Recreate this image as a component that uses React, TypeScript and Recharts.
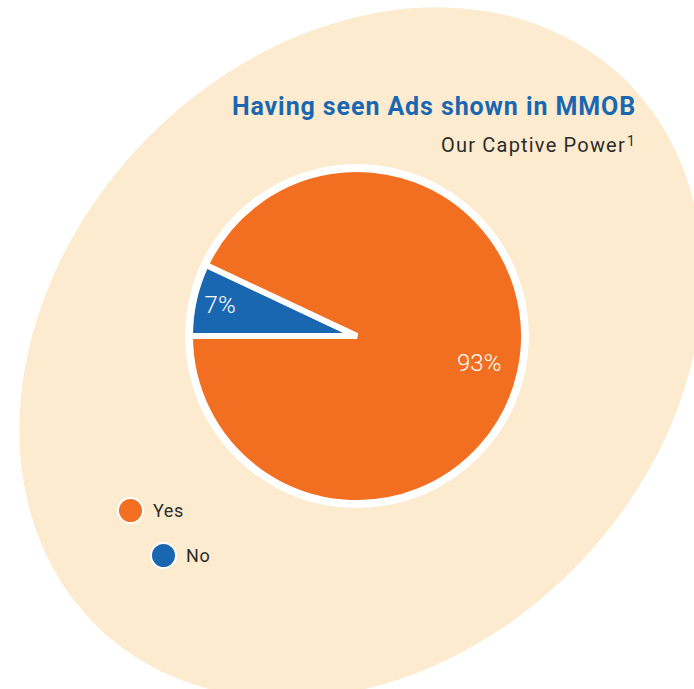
import { PieChart, Pie, Cell, Legend } from "recharts";

const answers = ["No", "Yes"];
const shares = [7, 93];
const colors = ["#1A67B1", "#F26F22"];
const legendOrder = ["Yes", "No"];

const title = "Having seen Ads shown in MMOB";
const subtitle = "Our Captive Power";

const data = answers.map((name, i) => ({ name, value: shares[i] }));

const RADIAN = Math.PI / 180;

function renderLabel(props: any) {
  const { cx, cy, midAngle, outerRadius, value, percent } = props;
  // thin slices get their label pushed nearer the rim
  const r = outerRadius * (percent < 0.2 ? 0.84 : 0.75);
  const x = cx + r * Math.cos(-midAngle * RADIAN);
  const y = cy + r * Math.sin(-midAngle * RADIAN);
  return (
    <text
      x={x}
      y={y}
      fill="#fff"
      textAnchor="middle"
      dominantBaseline="central"
      fontFamily="Roboto"
      fontWeight={300}
      fontSize={24}
    >
      {`${value}%`}
    </text>
  );
}

function LegendBox() {
  return (
    <div style={{ position: "relative", width: 200, height: 90, fontFamily: "Roboto", fontSize: 18, letterSpacing: 0.6, color: "#2b2b2b" }}>
      {legendOrder.map((name, i) => {
        const idx = answers.indexOf(name);
        return (
          <div
            key={name}
            style={{ position: "absolute", left: i * 33, top: i * 45, display: "flex", alignItems: "center" }}
          >
            <span
              style={{
                width: 27,
                height: 27,
                borderRadius: "50%",
                background: colors[idx],
                border: "2px solid #fff",
                boxSizing: "border-box",
                display: "inline-block",
                marginRight: 9,
              }}
            />
            <span>{name}</span>
          </div>
        );
      })}
    </div>
  );
}

export default function App() {
  return (
    <div style={{ position: "absolute", left: 0, top: 0, width: 694, height: 689, overflow: "hidden", background: "#fff" }}>
      <svg width={694} height={689} style={{ position: "absolute", left: 0, top: 0 }}>
        <ellipse cx={361} cy={353} rx={380} ry={303} fill="#FDEBCF" transform="rotate(-46.5 361 353)" />
        <circle cx={357} cy={336} r={172} fill="#fff" />
        <text x={636} y={115} textAnchor="end" fill="#1A67B1" fontFamily="Roboto" fontWeight={700} fontSize={25} letterSpacing={0.9}>
          {title}
        </text>
        <text x={636} y={152} textAnchor="end" fill="#2b2b2b" fontFamily="Roboto" fontSize={20} letterSpacing={1.2}>
          {subtitle}
          <tspan fontSize={14} dy={-6} dx={1}>1</tspan>
        </text>
      </svg>
      <div style={{ position: "absolute", left: 0, top: 0 }}>
        <PieChart width={694} height={689} margin={{ top: 0, right: 0, bottom: 0, left: 0 }}>
          <Pie
            data={data}
            dataKey="value"
            nameKey="name"
            cx={357}
            cy={336}
            outerRadius={167}
            startAngle={180}
            endAngle={-180}
            stroke="#fff"
            strokeWidth={6}
            label={renderLabel}
            labelLine={false}
            isAnimationActive={false}
          >
            {data.map((d, i) => (
              <Cell key={d.name} fill={colors[i]} />
            ))}
          </Pie>
          <Legend
            content={() => <LegendBox />}
            wrapperStyle={{ position: "absolute", left: 117, top: 497, width: 200 }}
          />
        </PieChart>
      </div>
    </div>
  );
}
